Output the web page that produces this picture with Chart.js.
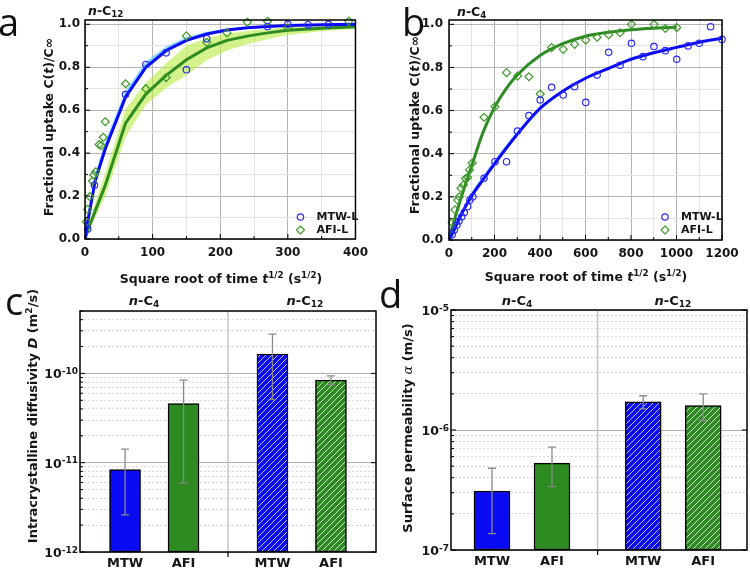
<!DOCTYPE html>
<html>
<head>
<meta charset="utf-8">
<script src="https://cdn.jsdelivr.net/npm/chart.js@4.4.1/dist/chart.umd.min.js"></script>
<style>
  body { margin: 0; background: #fff; width: 750px; height: 571px; position: relative; overflow: hidden; font-family: "DejaVu Sans", sans-serif; color: #151515; }
  .panel { position: absolute; }
  .t { position: absolute; font-weight: bold; white-space: nowrap; line-height: 1; }
  .rot { transform: translate(-50%, -50%) rotate(-90deg); }
  .ctr { transform: translate(-50%, -50%); }
  .mid { transform: translateY(-50%); }
  .letter { position: absolute; font-family: "Open Sans", sans-serif; font-size: 38px; line-height: 1; color: #111; }
  sup { font-size: 70%; vertical-align: 0.5em; line-height: 0; }
  sub { font-size: 70%; vertical-align: -0.3em; line-height: 0; }
</style>
</head>
<body>
<div class="panel" style="left:0;top:0;width:375px;height:285px"><canvas id="ca"></canvas></div>
<div class="panel" style="left:375px;top:0;width:375px;height:285px"><canvas id="cb"></canvas></div>
<div class="panel" style="left:0;top:285px;width:380px;height:286px"><canvas id="cc"></canvas></div>
<div class="panel" style="left:375px;top:285px;width:375px;height:286px"><canvas id="cd"></canvas></div>

<div class="letter" style="left:-2px;top:2px">a</div>
<div class="letter" style="left:402px;top:2px">b</div>
<div class="letter" style="left:5px;top:281px">c</div>
<div class="letter" style="left:379px;top:274px">d</div>

<div class="t mid" style="left:88px;top:11px;font-size:12.5px"><i>n</i>-C<sub>12</sub></div>
<div class="t mid" style="left:457px;top:12px;font-size:12.5px"><i>n</i>-C<sub>4</sub></div>

<div class="t ctr" style="left:221px;top:279px;font-size:12.5px">Square root of time <i>t</i><sup>1/2</sup> (s<sup>1/2</sup>)</div>
<div class="t ctr" style="left:586px;top:277px;font-size:12.5px">Square root of time <i>t</i><sup>1/2</sup> (s<sup>1/2</sup>)</div>
<div class="t rot" style="left:49px;top:127px;font-size:12.5px">Fractional uptake C(<i>t</i>)/C∞</div>
<div class="t rot" style="left:415px;top:125px;font-size:12.5px">Fractional uptake C(<i>t</i>)/C∞</div>
<div class="t rot" style="left:32px;top:416px;font-size:13px">Intracrystalline diffusivity <i>D</i> (m<sup>2</sup>/s)</div>
<div class="t rot" style="left:407px;top:428px;font-size:13px">Surface permeability <i style="font-family:'DejaVu Serif';font-weight:normal">α</i> (m/s)</div>

<div class="t ctr" style="left:144px;top:300px;font-size:13px"><i>n</i>-C<sub>4</sub></div>
<div class="t ctr" style="left:305px;top:300px;font-size:13px"><i>n</i>-C<sub>12</sub></div>
<div class="t ctr" style="left:517px;top:300px;font-size:13px"><i>n</i>-C<sub>4</sub></div>
<div class="t ctr" style="left:673px;top:300px;font-size:13px"><i>n</i>-C<sub>12</sub></div>

<script>
// ---- panel a: n-C12 uptake ----
const aXTicks = [0, 100, 200, 300, 400];
const aMtwX = [4, 14, 60, 90, 120, 150, 180, 270, 300, 330, 360];
const aMtwY = [0.046, 0.25, 0.673, 0.813, 0.867, 0.788, 0.933, 0.99, 1.0, 0.998, 1.0];
const aAfiX = [2, 4, 7, 11, 13, 16, 21, 24, 27, 30, 60, 90, 120, 150, 180, 210, 240, 270, 300, 390];
const aAfiY = [0.08, 0.138, 0.197, 0.27, 0.298, 0.313, 0.44, 0.435, 0.474, 0.546, 0.723, 0.70, 0.752, 0.946, 0.916, 0.96, 1.01, 1.014, 0.985, 1.015];
const aFitX = [0, 4, 15, 30, 60, 90, 120, 150, 180, 210, 240, 270, 300, 350, 400];
const aMtwFit = [0, 0.08, 0.27, 0.42, 0.662, 0.80, 0.878, 0.925, 0.955, 0.973, 0.984, 0.99, 0.994, 0.998, 1.0];
const aMtwHi  = [0, 0.10, 0.30, 0.455, 0.69, 0.825, 0.897, 0.94, 0.965, 0.979, 0.988, 0.993, 0.996, 0.999, 1.0];
const aMtwLo  = [0, 0.07, 0.255, 0.405, 0.648, 0.788, 0.868, 0.917, 0.949, 0.969, 0.981, 0.988, 0.993, 0.997, 1.0];
const aAfiFit = [0, 0.04, 0.13, 0.25, 0.54, 0.675, 0.762, 0.835, 0.89, 0.925, 0.945, 0.96, 0.972, 0.982, 0.988];
const aAfiHi  = [0, 0.05, 0.165, 0.31, 0.605, 0.728, 0.818, 0.90, 0.935, 0.956, 0.969, 0.978, 0.986, 0.992, 0.996];
const aAfiLo  = [0, 0.03, 0.10, 0.20, 0.475, 0.625, 0.703, 0.763, 0.833, 0.878, 0.908, 0.93, 0.95, 0.968, 0.978];

// ---- panel b: n-C4 uptake ----
const bXTicks = [0, 200, 400, 600, 800, 1000, 1200];
const bMtwX = [14, 23, 35, 44, 56, 67, 82, 92, 105, 154, 202, 253, 301, 351, 401, 451, 502, 552, 601, 651, 702, 752, 802, 852, 901, 951, 1001, 1051, 1100, 1150, 1200];
const bMtwY = [0.025, 0.046, 0.069, 0.088, 0.108, 0.127, 0.155, 0.185, 0.2, 0.286, 0.363, 0.363, 0.505, 0.577, 0.649, 0.708, 0.672, 0.711, 0.638, 0.765, 0.87, 0.81, 0.912, 0.85, 0.897, 0.878, 0.838, 0.9, 0.912, 0.989, 0.93];
const bAfiX = [14, 26, 38, 45, 53, 63, 73, 82, 90, 102, 154, 202, 253, 301, 351, 401, 451, 502, 552, 601, 651, 702, 752, 802, 901, 951, 1001];
const bAfiY = [0.08, 0.14, 0.185, 0.2, 0.24, 0.255, 0.285, 0.29, 0.325, 0.357, 0.569, 0.618, 0.776, 0.76, 0.757, 0.677, 0.892, 0.884, 0.907, 0.927, 0.94, 0.952, 0.961, 1.0, 1.0, 0.981, 0.985];
const bMtwFitX = [0, 20, 50, 100, 150, 200, 300, 400, 500, 600, 700, 800, 900, 1000, 1100, 1200];
const bMtwFit = [0, 0.04, 0.11, 0.205, 0.28, 0.353, 0.49, 0.61, 0.69, 0.75, 0.795, 0.838, 0.868, 0.893, 0.917, 0.935];
const bMtwHi  = [0, 0.045, 0.12, 0.222, 0.298, 0.37, 0.503, 0.618, 0.695, 0.753, 0.797, 0.839, 0.869, 0.894, 0.918, 0.936];
const bMtwLo  = [0, 0.037, 0.105, 0.198, 0.272, 0.346, 0.485, 0.606, 0.687, 0.748, 0.794, 0.837, 0.867, 0.892, 0.916, 0.934];
const bAfiFitX = [0, 20, 50, 100, 150, 200, 250, 300, 400, 500, 600, 700, 800, 900, 1000];
const bAfiFit = [0, 0.08, 0.185, 0.345, 0.5, 0.615, 0.7, 0.765, 0.855, 0.91, 0.945, 0.963, 0.975, 0.982, 0.986];
const uptakeYTicks = [0, 0.2, 0.4, 0.6, 0.8, 1.0];

// ---- panels c, d: bars ----
const barCats = ['MTW', 'AFI', 'MTW', 'AFI'];
const barGroup = [0, 0, 1, 1];
const cD     = [8.4e-12, 4.6e-11, 1.65e-10, 8.4e-11];
const cDLow  = [2.6e-12, 5.9e-12, 5.1e-11, 7.5e-11];
const cDHigh = [1.42e-11, 8.4e-11, 2.75e-10, 9.4e-11];
const cDecades = [-12, -11, -10];
const dAlpha     = [3.1e-7, 5.3e-7, 1.72e-6, 1.6e-6];
const dAlphaLow  = [1.37e-7, 3.37e-7, 1.5e-6, 1.2e-6];
const dAlphaHigh = [4.8e-7, 7.2e-7, 1.93e-6, 2.0e-6];
const dDecades = [-7, -6, -5];

const BLUE = '#0a0af5', GREEN = '#2e8b22';

Chart.defaults.font.family = '"DejaVu Sans", sans-serif';
Chart.defaults.font.weight = 'bold';
Chart.defaults.font.size = 12;
Chart.defaults.color = '#151515';

const zip = (xs, ys) => xs.map((x, i) => ({ x, y: ys[i] }));

function withMinors(majors) {
  const out = [];
  majors.forEach((v, i) => {
    out.push({ value: v, major: true });
    if (i < majors.length - 1) out.push({ value: (v + majors[i + 1]) / 2, major: false });
  });
  return out;
}

function logTicks(decades, max) {
  const out = [];
  decades.forEach(e => {
    for (let m = 1; m <= 9; m++) {
      const v = m * Math.pow(10, e);
      if (v <= max * 1.0001) out.push({ value: v, major: m === 1 });
    }
  });
  return out;
}

const frame = {
  id: 'frame',
  afterDraw(chart) {
    const { ctx, chartArea: a } = chart;
    ctx.save();
    ctx.strokeStyle = '#000';
    ctx.lineWidth = 1.5;
    ctx.strokeRect(a.left, a.top, a.right - a.left, a.bottom - a.top);
    ctx.restore();
  }
};

const inTicks = {
  id: 'inTicks',
  afterDraw(chart, args, o) {
    const { ctx, chartArea: a, scales } = chart;
    ctx.save();
    ctx.strokeStyle = '#000';
    ctx.lineWidth = 1;
    ctx.beginPath();
    scales.y.ticks.forEach(t => {
      const y = scales.y.getPixelForValue(t.value);
      const len = t.major ? 5 : 3;
      ctx.moveTo(a.left, y); ctx.lineTo(a.left + len, y);
      if (o.right && t.major) { ctx.moveTo(a.right, y); ctx.lineTo(a.right - len, y); }
    });
    if (o.bottom) {
      scales.x.ticks.forEach(t => {
        const x = scales.x.getPixelForValue(t.value);
        const len = t.major ? 5 : 3;
        ctx.moveTo(x, a.bottom); ctx.lineTo(x, a.bottom - len);
      });
    }
    ctx.stroke();
    ctx.restore();
  }
};

const dotLegend = {
  id: 'dotLegend',
  afterDraw(chart, args, o) {
    const { ctx, chartArea: a } = chart;
    const items = chart.data.datasets.filter(d => d.legend);
    ctx.save();
    items.forEach((d, i) => {
      const x = a.right - o.dx, y = a.bottom - o.dy + i * 13;
      ctx.strokeStyle = d.borderColor;
      ctx.lineWidth = 1.2;
      ctx.beginPath();
      if (d.pointStyle === 'rectRot') {
        const r = d.pointRadius;
        ctx.moveTo(x, y - r); ctx.lineTo(x + r, y); ctx.lineTo(x, y + r); ctx.lineTo(x - r, y); ctx.closePath();
      } else {
        ctx.arc(x, y, d.pointRadius, 0, Math.PI * 2);
      }
      ctx.stroke();
      ctx.fillStyle = '#151515';
      ctx.font = 'bold 11px "DejaVu Sans"';
      ctx.textBaseline = 'middle';
      ctx.fillText(d.label, x + 16, y + 0.5);
    });
    ctx.restore();
  }
};

function uptakeChart(id, cfg) {
  const ds = [];
  cfg.series.forEach(s => {
    if (!s.hi) return;
    ds.push({ type: 'line', data: zip(s.fitX, s.hi), borderWidth: 0, pointRadius: 0, fill: false, tension: cfg.tension, order: 3 });
    ds.push({ type: 'line', data: zip(s.fitX, s.lo), borderWidth: 0, pointRadius: 0, fill: '-1', backgroundColor: s.band, tension: cfg.tension, order: 3 });
  });
  cfg.series.forEach(s => {
    ds.push({ type: 'line', data: zip(s.fitX, s.fit), borderColor: s.color, borderWidth: 3, pointRadius: 0, fill: false,
              tension: cfg.tension, cubicInterpolationMode: cfg.tension ? 'monotone' : 'default', order: 2 });
  });
  cfg.series.forEach(s => {
    ds.push({ type: 'scatter', label: s.label, legend: true, data: zip(s.px, s.py), pointStyle: s.pointStyle,
              pointRadius: s.pointStyle === 'rectRot' ? 4 : 3.2, borderColor: s.ptColor, backgroundColor: 'rgba(0,0,0,0)',
              borderWidth: 1.2, clip: false, order: 0 });
  });
  const gridColor = c => (c.tick && c.tick.major) ? '#b4b4b4' : '#e3e3e3';
  new Chart(document.getElementById(id), {
    type: 'scatter',
    data: { datasets: ds },
    plugins: [frame, inTicks, dotLegend],
    options: {
      animation: false,
      responsive: true,
      maintainAspectRatio: false,
      layout: { padding: { top: 20, right: cfg.padRight, left: 0, bottom: 0 } },
      scales: {
        x: {
          type: 'linear', min: cfg.xTicks[0], max: cfg.xTicks[cfg.xTicks.length - 1],
          afterBuildTicks: s => { s.ticks = withMinors(cfg.xTicks); },
          afterFit: s => { s.height = cfg.xAxisH; },
          grid: { color: gridColor, lineWidth: 1, drawTicks: false },
          border: { display: false },
          ticks: { autoSkip: false, maxRotation: 0, padding: 7, callback: (v, i, t) => t[i].major ? v : '' }
        },
        y: {
          type: 'linear', min: 0, max: 1.02,
          afterBuildTicks: s => { s.ticks = withMinors(uptakeYTicks); },
          afterFit: s => { s.width = cfg.yAxisW; },
          grid: { color: gridColor, lineWidth: 1, drawTicks: false },
          border: { display: false },
          ticks: { autoSkip: false, padding: cfg.yPad, callback: (v, i, t) => t[i].major ? v.toFixed(1) : '' }
        }
      },
      plugins: {
        legend: { display: false },
        tooltip: { enabled: false },
        inTicks: { bottom: true },
        dotLegend: cfg.legend
      }
    }
  });
}

uptakeChart('ca', {
  xTicks: aXTicks, yAxisW: 85, xAxisH: 46, padRight: 18, yPad: 5, tension: 0,
  legend: { dx: 55, dy: 22 },
  series: [
    { label: 'MTW-L', fitX: aFitX, fit: aMtwFit, hi: aMtwHi, lo: aMtwLo, band: 'rgba(95,200,255,0.75)', color: BLUE,
      px: aMtwX, py: aMtwY, pointStyle: 'circle', ptColor: '#2a2aff' },
    { label: 'AFI-L', fitX: aFitX, fit: aAfiFit, hi: aAfiHi, lo: aAfiLo, band: 'rgba(185,235,70,0.62)', color: GREEN,
      px: aAfiX, py: aAfiY, pointStyle: 'rectRot', ptColor: '#3f9a2a' }
  ]
});

uptakeChart('cb', {
  xTicks: bXTicks, yAxisW: 74, xAxisH: 45, padRight: 28, yPad: 6, tension: 0.3,
  legend: { dx: 57, dy: 23 },
  series: [
    { label: 'MTW-L', fitX: bMtwFitX, fit: bMtwFit, hi: bMtwHi, lo: bMtwLo, band: 'rgba(95,200,255,0.75)', color: BLUE,
      px: bMtwX, py: bMtwY, pointStyle: 'circle', ptColor: '#2a2aff' },
    { label: 'AFI-L', fitX: bAfiFitX, fit: bAfiFit, color: GREEN,
      px: bAfiX, py: bAfiY, pointStyle: 'rectRot', ptColor: '#3f9a2a' }
  ]
});

// ---- bar panels ----
function hatch(color) {
  const c = document.createElement('canvas');
  c.width = c.height = 6;
  const g = c.getContext('2d');
  g.fillStyle = color; g.fillRect(0, 0, 6, 6);
  g.strokeStyle = 'rgba(255,255,255,0.85)'; g.lineWidth = 0.9;
  g.beginPath();
  g.moveTo(0, 6); g.lineTo(6, 0);
  g.moveTo(-1, 1); g.lineTo(1, -1);
  g.moveTo(5, 7); g.lineTo(7, 5);
  g.stroke();
  return g.createPattern(c, 'repeat');
}

const barPos = barCats.map((c, i) => i + barGroup[i] * 0.52);
const dividerPos = (barPos[1] + barPos[2]) / 2;

const errBars = {
  id: 'errBars',
  afterDatasetsDraw(chart) {
    const { ctx, scales: { x, y } } = chart;
    const d = chart.data.datasets[0];
    ctx.save();
    ctx.strokeStyle = '#8a8a8a';
    ctx.lineWidth = 1.3;
    ctx.beginPath();
    d.data.forEach((p, i) => {
      const px = x.getPixelForValue(p.x);
      const y1 = y.getPixelForValue(d.lo[i]), y2 = y.getPixelForValue(d.hi[i]);
      ctx.moveTo(px, y1); ctx.lineTo(px, y2);
      ctx.moveTo(px - 4, y1); ctx.lineTo(px + 4, y1);
      ctx.moveTo(px - 4, y2); ctx.lineTo(px + 4, y2);
    });
    ctx.stroke();
    ctx.restore();
  }
};

const divider = {
  id: 'divider',
  beforeDatasetsDraw(chart) {
    const { ctx, chartArea: a, scales: { x } } = chart;
    const px = x.getPixelForValue(dividerPos);
    ctx.save();
    ctx.strokeStyle = '#c4c4c4'; ctx.lineWidth = 1.5;
    ctx.beginPath(); ctx.moveTo(px, a.top); ctx.lineTo(px, a.bottom); ctx.stroke();
    ctx.strokeStyle = '#000'; ctx.lineWidth = 1.2;
    ctx.beginPath(); ctx.moveTo(px, a.bottom); ctx.lineTo(px, a.bottom + 5); ctx.stroke();
    ctx.restore();
  }
};

const powLabels = {
  id: 'powLabels',
  afterDraw(chart) {
    const { ctx, chartArea: a, scales: { y } } = chart;
    ctx.save();
    ctx.fillStyle = '#151515';
    ctx.textAlign = 'left';
    ctx.textBaseline = 'alphabetic';
    y.ticks.filter(t => t.major).forEach(t => {
      const py = y.getPixelForValue(t.value);
      const exp = String(Math.round(Math.log10(t.value)));
      ctx.font = 'bold 9px "DejaVu Sans"';
      const ew = ctx.measureText(exp).width;
      ctx.font = 'bold 12.5px "DejaVu Sans"';
      const bw = ctx.measureText('10').width;
      const right = a.left - 2;
      ctx.fillText('10', right - ew - bw, py + 5);
      ctx.font = 'bold 9px "DejaVu Sans"';
      ctx.fillText(exp, right - ew, py + 0.5);
    });
    ctx.restore();
  }
};

function barChart(id, cfg) {
  const colors = [BLUE, GREEN, hatch(BLUE), hatch(GREEN)];
  new Chart(document.getElementById(id), {
    type: 'bar',
    data: {
      datasets: [{
        data: zip(barPos, cfg.values), lo: cfg.low, hi: cfg.high,
        backgroundColor: colors, borderColor: '#000', borderWidth: 1.5, borderSkipped: false,
        barThickness: cfg.barW
      }]
    },
    plugins: [divider, errBars, frame, inTicks, powLabels],
    options: {
      animation: false,
      responsive: true,
      maintainAspectRatio: false,
      layout: { padding: { top: cfg.top, right: cfg.padRight, left: 0, bottom: 0 } },
      scales: {
        x: {
          type: 'linear', offset: false, min: cfg.xMin, max: cfg.xMax,
          afterBuildTicks: s => { s.ticks = barPos.map(v => ({ value: v })); },
          afterFit: s => { s.height = cfg.xAxisH; },
          grid: { display: false, drawTicks: false },
          border: { display: false },
          ticks: { autoSkip: false, maxRotation: 0, padding: 4, font: { size: 13 }, callback: (v, i) => barCats[i] }
        },
        y: {
          type: 'logarithmic', min: cfg.yMin, max: cfg.yMax,
          afterBuildTicks: s => { s.ticks = logTicks(cfg.decades, cfg.yMax); },
          afterFit: s => { s.width = cfg.yAxisW; },
          grid: { color: c => (c.tick && c.tick.major) ? '#b0b0b0' : '#dadada', drawTicks: false },
          border: { display: false, dash: c => (c.tick && !c.tick.major) ? [2, 2] : [] },
          ticks: { display: false }
        }
      },
      plugins: {
        legend: { display: false },
        tooltip: { enabled: false },
        inTicks: { right: true }
      }
    }
  });
}

barChart('cc', {
  values: cD, low: cDLow, high: cDHigh, decades: cDecades, yMin: 1e-12, yMax: 5e-10,
  barW: 31, top: 26, padRight: 4, xAxisH: 19, yAxisW: 80, xMin: -0.77, xMax: 4.29
});
barChart('cd', {
  values: dAlpha, low: dAlphaLow, high: dAlphaHigh, decades: dDecades, yMin: 1e-7, yMax: 1e-5,
  barW: 36, top: 25, padRight: 3, xAxisH: 21, yAxisW: 76, xMin: -0.683, xMax: 4.25
});
</script>
</body>
</html>
